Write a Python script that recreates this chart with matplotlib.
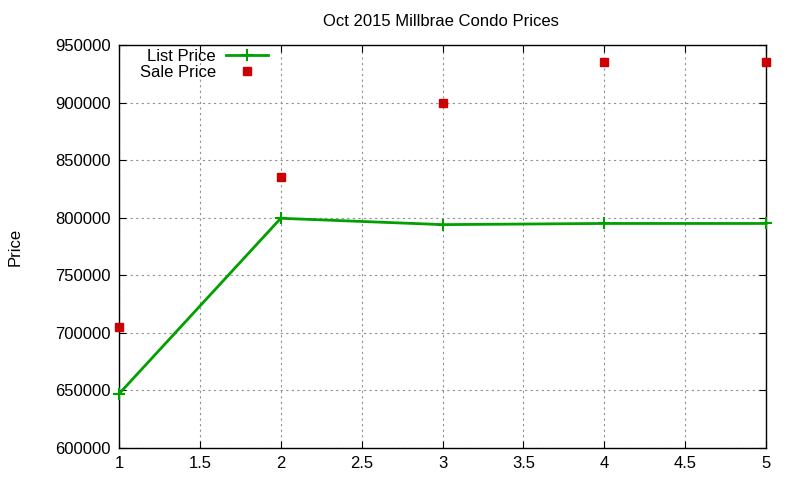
import matplotlib
matplotlib.use("Agg")
import matplotlib.pyplot as plt

# Oct 2015 Millbrae condo prices
bedrooms = [1, 2, 3, 4, 5]
list_price = [647000, 799500, 794000, 795000, 795000]
sale_price = [705000, 835000, 900000, 935000, 935000]

yticks = list(range(600000, 950001, 50000))
xticks = [1, 1.5, 2, 2.5, 3, 3.5, 4, 4.5, 5]

plt.rcParams["font.family"] = ["Liberation Sans", "DejaVu Sans"]

fig = plt.figure(figsize=(8, 4.8), dpi=100)
ax = fig.add_axes([119/800, 1 - 448/480, (766-119)/800, (448-45)/480])

ax.plot(bedrooms, list_price, color="#00a000", lw=2, marker="+", ms=8, mew=1.5,
        label="List Price", clip_on=False, zorder=3)
ax.plot(bedrooms, sale_price, ls="none", color="#cc0000", marker="s", ms=6,
        label="Sale Price", clip_on=False, zorder=3)

ax.set_xlim(1, 5)
ax.set_ylim(600000, 950000)
ax.set_xticks(xticks)
ax.set_xticklabels([("%g" % t) for t in xticks])
ax.set_yticks(yticks)
ax.set_yticklabels([str(t) for t in yticks])
ax.tick_params(direction="in", top=True, right=True, length=5, labelsize=12, pad=6)
ax.grid(True, ls=(0, (2, 3)), color="#909090", lw=0.8)
for s in ax.spines.values():
    s.set_linewidth(1)

ax.set_ylabel("Price", fontsize=12, labelpad=23)
fig.text(0.551, 1 - 21/480, "Oct 2015 Millbrae Condo Prices", ha="center",
         va="center", fontsize=12)

ax.legend(loc="upper left", bbox_to_anchor=(0.014, 1.02), frameon=False,
          markerfirst=False, fontsize=12, handlelength=2.5, borderpad=0.2,
          labelspacing=0.1, handletextpad=0.6)

fig.savefig("out.png", dpi=100)
plt.close(fig)
